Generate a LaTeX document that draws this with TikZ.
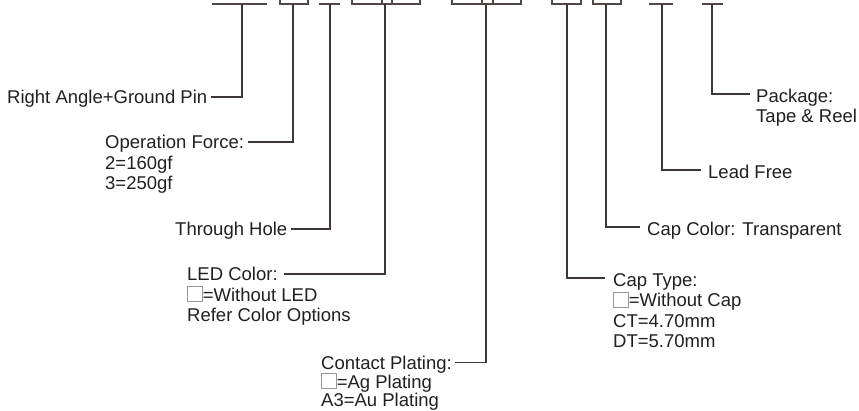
\documentclass[tikz,border=0pt]{standalone}
\usepackage{fontspec}
\setmainfont{Liberation Sans}
\usetikzlibrary{calc}
\definecolor{ln}{RGB}{62,55,53}
\definecolor{tp}{RGB}{80,72,70}
\definecolor{tx}{RGB}{35,31,32}
\definecolor{bx}{RGB}{150,150,150}
\newcommand{\emptybox}{{\color{bx}\setlength{\fboxrule}{0.8pt}\setlength{\fboxsep}{0pt}\fbox{\rule{0pt}{14pt}\hspace{14pt}}}}
\begin{document}
\begin{tikzpicture}[x=1pt,y=-1pt,
  lbl/.style={inner sep=0pt,anchor=base west,text=tx,font=\fontsize{18.5}{20.5}\selectfont},
  conn/.style={draw=ln,line width=1.2pt},
  topel/.style={draw=tp,line width=1.4pt}]
\clip (0,0) rectangle (859,410);
\fill[white] (0,0) rectangle (859,410);
% top code elements
\draw[topel] (212,4) -- (267,4);
\draw[topel] (280,-6) -- (280,4) -- (308,4) -- (308,-6);
\draw[topel] (319,4) -- (340,4);
\draw[topel] (352,-6) -- (352,4) -- (420,4) -- (420,-6);
\draw[topel] (382,-6) -- (382,4) (392,-6) -- (392,4);
\draw[topel] (452,-6) -- (452,4) -- (521,4) -- (521,-6);
\draw[topel] (482,-6) -- (482,4) (493,-6) -- (493,4);
\draw[topel] (552,-6) -- (552,4) -- (581,4) -- (581,-6);
\draw[topel] (593,-6) -- (593,4) -- (621,4) -- (621,-6);
\draw[topel] (649,4) -- (673,4);
\draw[topel] (702,4) -- (723,4);
\coordinate (s1) at (242,4);
\coordinate (s2) at (293,4);
\coordinate (s3) at (330,4);
\coordinate (s4) at (385,4);
\coordinate (s5) at (486,4);
\coordinate (s6) at (567,4);
\coordinate (s7) at (606,4);
\coordinate (s8) at (662,4);
\coordinate (s9) at (712,4);
% labels left
\node[lbl] (h1) at (7,103.5) {Right Angle+Ground Pin};
\node[lbl] (h2) at (105,148.5) {Operation Force:};
\node[lbl] (h2a) at (105,169) {2=160gf};
\node[lbl] (h2b) at (105,189.5) {3=250gf};
\node[lbl] (h3) at (175,235.5) {Through Hole};
\node[lbl] (h4) at (187,280.5) {LED Color:};
\node[lbl] (h4a) at (187,301) {\emptybox=Without LED};
\node[lbl] (h4b) at (187,321.5) {Refer Color Options};
\node[lbl] (h5) at (321,369) {Contact Plating:};
\node[lbl] (h5a) at (321,388) {\emptybox=Ag Plating};
\node[lbl] (h5b) at (321,406) {A3=Au Plating};
% labels right
\node[lbl] (h6) at (613,286) {Cap Type:};
\node[lbl] (h6a) at (613,306.5) {\emptybox=Without Cap};
\node[lbl] (h6b) at (613,327) {CT=4.70mm};
\node[lbl] (h6c) at (613,347.5) {DT=5.70mm};
\node[lbl] (h7) at (647,235) {Cap Color: Transparent};
\node[lbl] (h8) at (708,178) {Lead Free};
\node[lbl] (h9) at (756,102) {Package:};
\node[lbl] (h9a) at (756,122.5) {Tape \& Reel};
% connectors
\draw[conn] (s1) |- ($(h1.base east)+(4,-6.5)$);
\draw[conn] (s2) |- ($(h2.base east)+(4,-6.5)$);
\draw[conn] (s3) |- ($(h3.base east)+(4,-6.5)$);
\draw[conn] (s4) |- ($(h4.base east)+(6,-6.5)$);
\draw[conn] (s5) |- ($(h5.base east)+(3,-6.5)$);
\draw[conn] (s6) |- ($(h6.base west)+(-8,-8)$);
\draw[conn] (s7) |- ($(h7.base west)+(-7,-8)$);
\draw[conn] (s8) |- ($(h8.base west)+(-7,-8)$);
\draw[conn] (s9) |- ($(h9.base west)+(-6,-8)$);
\end{tikzpicture}
\end{document}
